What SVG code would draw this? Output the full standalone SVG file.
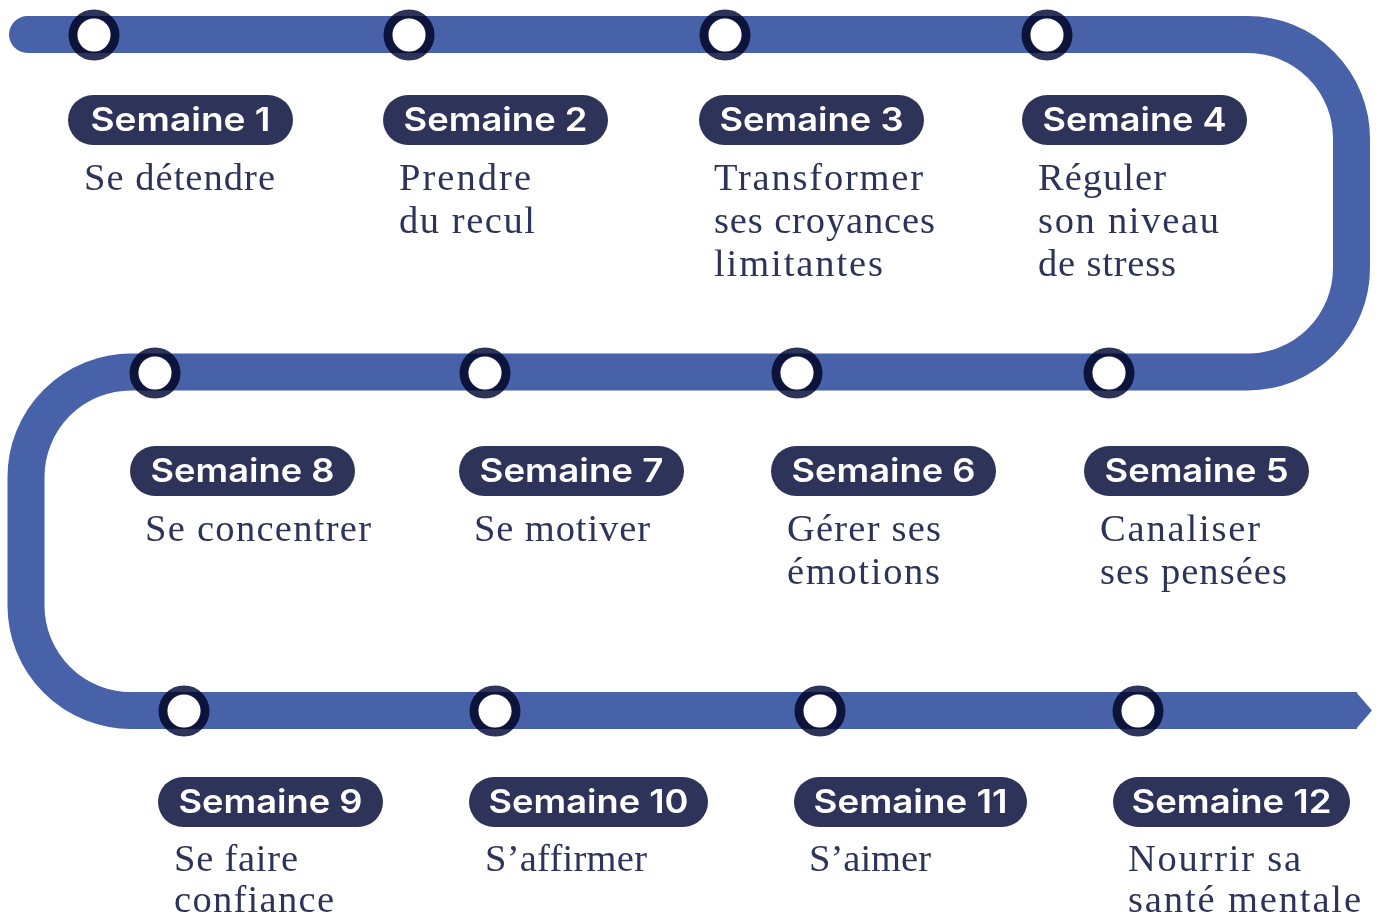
<svg xmlns="http://www.w3.org/2000/svg" width="1380" height="919" viewBox="0 0 1380 919">
<style>
.track{fill:none;stroke:#4862A9;stroke-width:37;stroke-linecap:round;stroke-linejoin:round}
.tip{fill:#4862A9}
.hole{fill:#ffffff}
.ring{fill:none;stroke:#2D3359;stroke-width:9;mix-blend-mode:multiply}
.pill{fill:#2D3359}
.pt{font-family:Inter,"Open Sans",sans-serif;font-weight:600;font-size:33px;fill:#ffffff;text-anchor:middle}
.d{font-family:"Liberation Serif","DejaVu Serif",serif;font-size:38.5px;fill:#2D3359}
</style>
<rect width="1380" height="919" fill="#ffffff"/>
<g id="connectors">
<path class="track" d="M27.5,34.5 H1247.5 A104,104 0 0 1 1351.5,138.5 V268 A104,104 0 0 1 1247.5,372 H131 A105,105 0 0 0 26,477 V605.5 A105,105 0 0 0 131,710.5 H1340"/>
<path class="track" style="stroke-linecap:butt" d="M1330,710.5 H1357"/>
<polygon class="tip" points="1356,692 1372,710.5 1356,729"/>
</g>
<g id="w1"><circle class="hole" cx="94" cy="35" r="17"/><circle class="ring" cx="94" cy="35" r="21"/>
<rect class="pill" x="68" y="95" width="225" height="50" rx="25"/><text class="pt" x="180.5" y="131" textLength="180" lengthAdjust="spacingAndGlyphs">Semaine 1</text>
<text class="d" x="84" y="190" textLength="191">Se détendre</text></g>
<g id="w2"><circle class="hole" cx="409" cy="35" r="17"/><circle class="ring" cx="409" cy="35" r="21"/>
<rect class="pill" x="383" y="95" width="225" height="50" rx="25"/><text class="pt" x="495.5" y="131" textLength="184" lengthAdjust="spacingAndGlyphs">Semaine 2</text>
<text class="d" x="399" y="190" textLength="132">Prendre</text><text class="d" x="399" y="233" textLength="136">du recul</text></g>
<g id="w3"><circle class="hole" cx="725" cy="35" r="17"/><circle class="ring" cx="725" cy="35" r="21"/>
<rect class="pill" x="699" y="95" width="225" height="50" rx="25"/><text class="pt" x="811.5" y="131" textLength="184" lengthAdjust="spacingAndGlyphs">Semaine 3</text>
<text class="d" x="714" y="190" textLength="209">Transformer</text><text class="d" x="714" y="233" textLength="221">ses croyances</text><text class="d" x="714" y="276" textLength="169">limitantes</text></g>
<g id="w4"><circle class="hole" cx="1047" cy="35" r="17"/><circle class="ring" cx="1047" cy="35" r="21"/>
<rect class="pill" x="1022" y="95" width="225" height="50" rx="25"/><text class="pt" x="1134.5" y="131" textLength="184" lengthAdjust="spacingAndGlyphs">Semaine 4</text>
<text class="d" x="1038" y="190" textLength="128">Réguler</text><text class="d" x="1038" y="233" textLength="181">son niveau</text><text class="d" x="1038" y="276" textLength="138">de stress</text></g>
<g id="w5"><circle class="hole" cx="1109" cy="373" r="17"/><circle class="ring" cx="1109" cy="373" r="21"/>
<rect class="pill" x="1084" y="446" width="225" height="50" rx="25"/><text class="pt" x="1196.5" y="482" textLength="184" lengthAdjust="spacingAndGlyphs">Semaine 5</text>
<text class="d" x="1100" y="541" textLength="160">Canaliser</text><text class="d" x="1100" y="584" textLength="187">ses pensées</text></g>
<g id="w6"><circle class="hole" cx="797" cy="373" r="17"/><circle class="ring" cx="797" cy="373" r="21"/>
<rect class="pill" x="771" y="446" width="225" height="50" rx="25"/><text class="pt" x="883.5" y="482" textLength="184" lengthAdjust="spacingAndGlyphs">Semaine 6</text>
<text class="d" x="787" y="541" textLength="154">Gérer ses</text><text class="d" x="787" y="584" textLength="153">émotions</text></g>
<g id="w7"><circle class="hole" cx="485" cy="373" r="17"/><circle class="ring" cx="485" cy="373" r="21"/>
<rect class="pill" x="459" y="446" width="225" height="50" rx="25"/><text class="pt" x="571.5" y="482" textLength="184" lengthAdjust="spacingAndGlyphs">Semaine 7</text>
<text class="d" x="474" y="541" textLength="176">Se motiver</text></g>
<g id="w8"><circle class="hole" cx="155" cy="373" r="17"/><circle class="ring" cx="155" cy="373" r="21"/>
<rect class="pill" x="130" y="446" width="225" height="50" rx="25"/><text class="pt" x="242.5" y="482" textLength="184" lengthAdjust="spacingAndGlyphs">Semaine 8</text>
<text class="d" x="145" y="541" textLength="226">Se concentrer</text></g>
<g id="w9"><circle class="hole" cx="184" cy="711" r="17"/><circle class="ring" cx="184" cy="711" r="21"/>
<rect class="pill" x="158" y="777" width="225" height="50" rx="25"/><text class="pt" x="270.5" y="813" textLength="184" lengthAdjust="spacingAndGlyphs">Semaine 9</text>
<text class="d" x="174" y="871" textLength="124">Se faire</text><text class="d" x="174" y="912" textLength="160">confiance</text></g>
<g id="w10"><circle class="hole" cx="495" cy="711" r="17"/><circle class="ring" cx="495" cy="711" r="21"/>
<rect class="pill" x="469" y="777" width="239" height="50" rx="25"/><text class="pt" x="588.5" y="813" textLength="200" lengthAdjust="spacingAndGlyphs">Semaine 10</text>
<text class="d" x="485" y="871" textLength="162">S’affirmer</text></g>
<g id="w11"><circle class="hole" cx="820" cy="711" r="17"/><circle class="ring" cx="820" cy="711" r="21"/>
<rect class="pill" x="794" y="777" width="233" height="50" rx="25"/><text class="pt" x="910.5" y="813" textLength="194" lengthAdjust="spacingAndGlyphs">Semaine 11</text>
<text class="d" x="809" y="871" textLength="122">S’aimer</text></g>
<g id="w12"><circle class="hole" cx="1138" cy="711" r="17"/><circle class="ring" cx="1138" cy="711" r="21"/>
<rect class="pill" x="1113" y="777" width="237" height="50" rx="25"/><text class="pt" x="1231.5" y="813" textLength="200" lengthAdjust="spacingAndGlyphs">Semaine 12</text>
<text class="d" x="1128" y="871" textLength="173">Nourrir sa</text><text class="d" x="1128" y="912" textLength="233">santé mentale</text></g>
</svg>
